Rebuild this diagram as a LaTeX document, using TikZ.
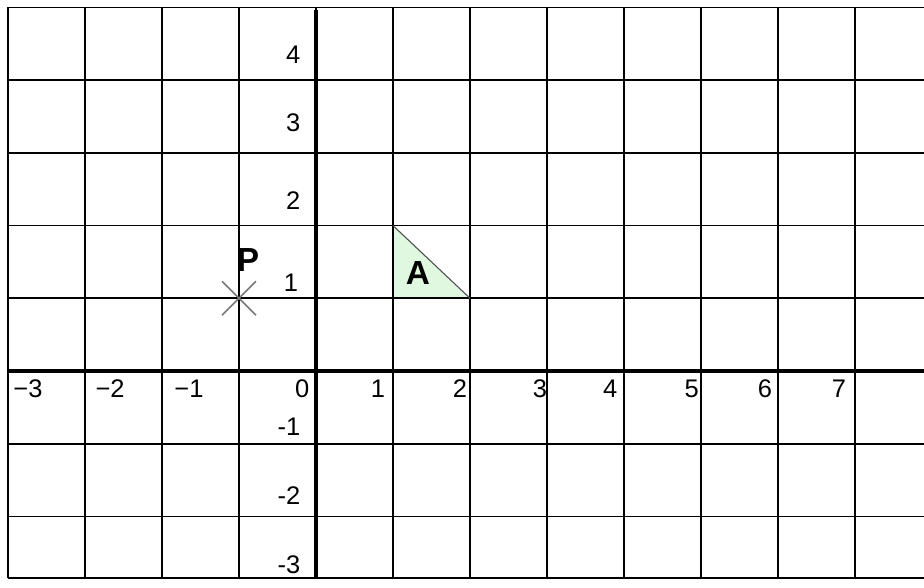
\documentclass[tikz,border=0pt]{standalone}
\usepackage{fontspec}
\setmainfont{Liberation Sans}
\usetikzlibrary{shapes,backgrounds,calc}

\definecolor{trifill}{RGB}{224,248,224}
\definecolor{crossgray}{RGB}{120,120,120}

\begin{document}
\begin{tikzpicture}[x=1.54cm, y=1.454cm]

%% styles
\tikzstyle{gridline}=[draw, line width=1pt]
\tikzstyle{axisline}=[draw, line width=1.9pt]
\tikzstyle{tick}=[font=\fontsize{14.5}{15}\selectfont, inner sep=0pt]
\tikzstyle{bold label}=[font=\fontsize{19}{20}\selectfont\bfseries, inner sep=0pt]

\useasboundingbox (-4.104,-2.985) rectangle (7.896,5.103);

%% shape A
\fill[trifill] (1,2) -- (1,1) -- (2,1) -- cycle;

%% grid
\foreach \x in {-4,...,7}
  \path[gridline] (\x,-2.85) -- (\x,5);
\foreach \y in {-2,-1,1,2,3,4,5}
  \path[gridline] (-4,\y) -- (7.896,\y);
\path[gridline] (-4,-2.85) -- (7.896,-2.85);

%% axes
\path[axisline] (-4,0) -- (7.896,0);
\path[axisline] (0,-2.85) -- (0,4.97);

%% hypotenuse
\draw[gray!60!black, line width=0.6pt] (1,2) -- (2,1);

%% point P
\draw[crossgray, line width=0.9pt] (-1.22,0.766) -- (-0.78,1.234);
\draw[crossgray, line width=0.9pt] (-1.22,1.234) -- (-0.78,0.766);

%% labels
\node(P)[style = bold label] at (-0.883, 1.527) {P};
\node(A)[style = bold label] at (1.325, 1.348) {A};

%% x ticks
\node(xm3)[style = tick] at (-3.74, -0.248) {−3};
\node(xm2)[style = tick] at (-2.675, -0.248) {−2};
\node(xm1)[style = tick] at (-1.65, -0.248) {−1};
\node(x0)[style = tick] at (-0.18, -0.248) {0};
\node(x1)[style = tick] at (0.805, -0.248) {1};
\node(x2)[style = tick] at (1.87, -0.248) {2};
\node(x3)[style = tick] at (2.91, -0.248) {3};
\node(x4)[style = tick] at (3.82, -0.248) {4};
\node(x5)[style = tick] at (4.88, -0.248) {5};
\node(x6)[style = tick] at (5.83, -0.248) {6};
\node(x7)[style = tick] at (6.79, -0.248) {7};

%% y ticks
\node(y4)[style = tick, anchor=east] at (-0.2, 4.35) {4};
\node(y3)[style = tick, anchor=east] at (-0.2, 3.41) {3};
\node(y2)[style = tick, anchor=east] at (-0.2, 2.35) {2};
\node(y1)[style = tick, anchor=east] at (-0.23, 1.21) {1};
\node(ym1)[style = tick, anchor=east] at (-0.2, -0.77) {-1};
\node(ym2)[style = tick, anchor=east] at (-0.2, -1.71) {-2};
\node(ym3)[style = tick, anchor=east] at (-0.2, -2.67) {-3};

\end{tikzpicture}
\end{document}
